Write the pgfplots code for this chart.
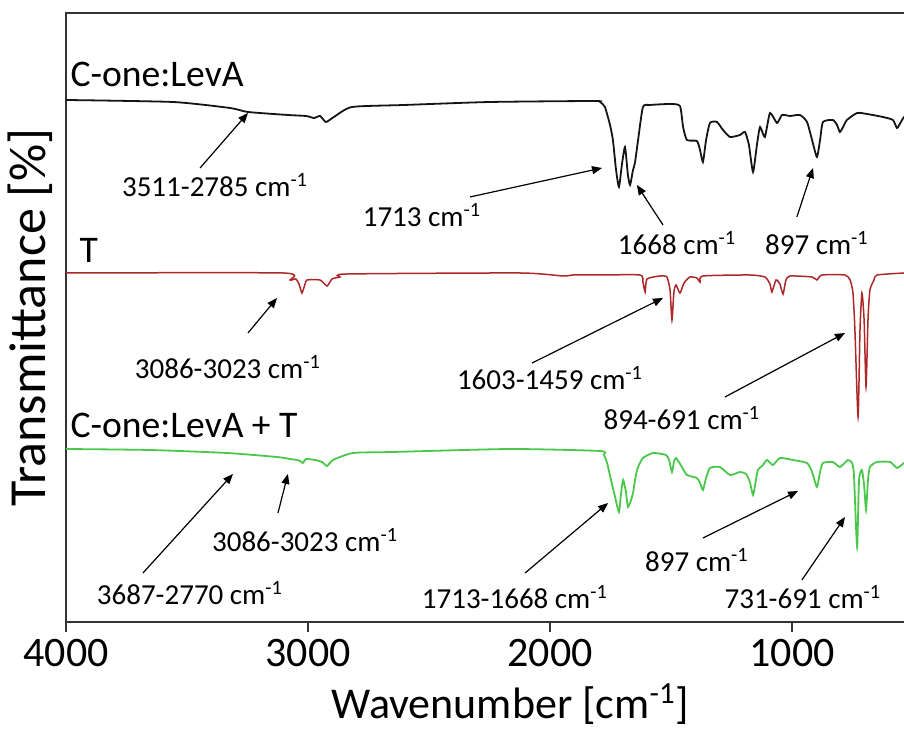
\documentclass[border=0pt]{standalone}
\usepackage{fontspec}
\setmainfont{Carlito}
\usepackage{pgfplots}
\usepackage{pgfplotstable}
\pgfplotsset{compat=1.18}
\usetikzlibrary{arrows.meta}

\definecolor{specblack}{RGB}{20,20,20}
\definecolor{specred}{RGB}{172,40,40}
\definecolor{specgreen}{RGB}{75,200,75}

\tikzset{
    ann/.style={font=\fontsize{14.5}{17}\selectfont, inner sep=0pt, anchor=center},
    big/.style={font=\fontsize{18.8}{22}\selectfont, inner sep=0pt, anchor=base west},
    arr/.style={-{Triangle[length=5pt,width=4pt]}, line width=0.6pt, black},
}

% wavenumber [cm-1], offset transmittance (arbitrary units)
\pgfplotstableread{
w y
4000 522
3558 520
3322 514
3248 510
3083 507
3008 506
2975 504
2950 506
2926 500
2893 505
2818 515
2603 517
2248 520
1818 521
1793 520
1773 515
1752 497
1740 482
1727 452
1715 435
1703 457
1690 475
1678 447
1669 437
1657 452
1649 459
1636 482
1616 515
1587 517
1504 518
1463 516
1450 495
1434 482
1393 481
1380 472
1368 460
1355 482
1339 499
1310 500
1285 492
1256 485
1215 487
1194 490
1178 477
1161 450
1145 477
1132 495
1112 485
1091 509
1062 499
1041 507
1008 506
967 507
938 500
917 482
897 465
884 482
872 500
831 502
814 497
802 490
789 495
773 502
731 509
690 508
624 505
583 502
566 494
550 500
537 505
520 505
}\levA

\pgfplotstableread{
w y
4000 349
3103 349
3074 342
3050 343
3037 338
3025 329
3012 338
3004 342
2950 342
2921 336
2901 343
2868 345
2839 348
2124 349
1946 346
1905 347
1793 347
1628 347
1616 340
1607 330
1599 343
1545 346
1517 345
1504 332
1496 302
1488 330
1479 337
1463 329
1446 339
1422 345
1393 344
1380 340
1368 346
1174 347
1112 345
1091 338
1083 330
1066 342
1050 338
1037 328
1025 342
1008 346
917 345
897 342
876 347
781 347
760 342
748 329
740 292
727 205
719 292
711 329
702 302
694 235
686 302
678 332
661 342
649 347
537 349
520 349
}\tol

\pgfplotstableread{
w y
4000 173
3653 172
3335 169
3128 165
3074 163
3045 162
3033 161
3021 159
3008 163
2971 162
2942 160
2921 156
2897 162
2814 169
2649 170
2165 173
1793 171
1777 167
1764 159
1748 142
1731 125
1715 110
1707 127
1698 142
1686 130
1678 115
1665 122
1657 129
1645 147
1636 155
1616 164
1574 169
1521 167
1508 162
1496 150
1488 160
1479 164
1455 155
1434 147
1393 144
1380 139
1368 132
1355 144
1339 154
1298 155
1256 147
1215 150
1190 148
1174 140
1161 127
1149 142
1141 152
1120 157
1103 162
1079 157
1050 164
996 162
938 159
917 150
897 135
884 150
872 159
831 160
802 155
769 162
752 159
744 147
731 75
723 142
711 152
702 137
694 112
686 142
678 155
649 160
595 160
566 154
537 159
520 160
}\mix

\begin{document}
\begin{tikzpicture}
% the axis runs on to 400 cm-1; the page ends near 537 cm-1, as in the cropped figure
\begin{axis}[
    name=ax,
    scale only axis,
    width=435.6pt,
    height=304.5pt,
    x dir=reverse,
    xmin=400, xmax=4000,
    ymin=0, ymax=609,
    axis line style={draw=black!80, line width=0.9pt},
    xtick={1000,2000,3000,4000},
    xtick pos=left,
    ytick=\empty,
    tick align=outside,
    major tick length=5pt,
    tick style={black!80, line width=0.9pt},
    /pgf/number format/assume math mode=true,
    /pgf/number format/1000 sep={},
    ticklabel style={font=\fontsize{21}{24}\selectfont},
    xlabel={Wavenumber [cm\textsuperscript{-1}]},
    ylabel={Transmittance [\%]},
    xlabel style={font=\fontsize{22}{26}\selectfont, at={(axis description cs:0.51,0)}, anchor=center, yshift=-41pt},
    ylabel style={font=\fontsize{26}{30}\selectfont, at={(axis description cs:-0.0413,0.5)}, anchor=center},
]
\addplot[specblack, line width=0.9pt, smooth, tension=0.35] table[x=w, y=y] {\levA};
\addplot[specred, line width=0.75pt, smooth, tension=0.35] table[x=w, y=y] {\tol};
\addplot[specgreen, line width=0.9pt, smooth, tension=0.35] table[x=w, y=y] {\mix};

% series names
\node[big] at (axis cs:3983,535) {C-one:LevA};
\node[big] at (axis cs:3945,359) {T};
\node[big] at (axis cs:3983,184) {C-one:LevA + T};

% band labels, C-one:LevA
\node[ann] at (axis cs:3384,437) {3511-2785 cm\textsuperscript{-1}};
\node[ann] at (axis cs:2529,407) {1713 cm\textsuperscript{-1}};
\node[ann] at (axis cs:1475,379) {1668 cm\textsuperscript{-1}};
\node[ann] at (axis cs:897,379) {897 cm\textsuperscript{-1}};
\draw[arr] (axis cs:3446,454) -- (axis cs:3248,509);
\draw[arr] (axis cs:2331,425) -- (axis cs:1785,454);
\draw[arr] (axis cs:1533,397) -- (axis cs:1641,437);
\draw[arr] (axis cs:980,405) -- (axis cs:913,454);

% band labels, T
\node[ann] at (axis cs:3331,255) {3086-3023 cm\textsuperscript{-1}};
\node[ann] at (axis cs:2000,244) {1603-1459 cm\textsuperscript{-1}};
\node[ann] at (axis cs:1455,204) {894-691 cm\textsuperscript{-1}};
\draw[arr] (axis cs:3248,289) -- (axis cs:3128,324);
\draw[arr] (axis cs:2074,259) -- (axis cs:1533,324);
\draw[arr] (axis cs:1277,225) -- (axis cs:781,289);

% band labels, C-one:LevA + T
\node[ann] at (axis cs:3488,29) {3687-2770 cm\textsuperscript{-1}};
\node[ann] at (axis cs:3012,82) {3086-3023 cm\textsuperscript{-1}};
\node[ann] at (axis cs:2145,25) {1713-1668 cm\textsuperscript{-1}};
\node[ann] at (axis cs:1393,62) {897 cm\textsuperscript{-1}};
\node[ann] at (axis cs:955,25) {731-691 cm\textsuperscript{-1}};
\draw[arr] (axis cs:3682,49) -- (axis cs:3310,148);
\draw[arr] (axis cs:3124,109) -- (axis cs:3083,148);
\draw[arr] (axis cs:2103,49) -- (axis cs:1760,119);
\draw[arr] (axis cs:1368,84) -- (axis cs:975,131);
\draw[arr] (axis cs:959,42) -- (axis cs:781,105);
\end{axis}
\pgfresetboundingbox
\useasboundingbox ([xshift=-33pt,yshift=-54.5pt]ax.south west) rectangle ([xshift=419pt,yshift=6.5pt]ax.north west);
\end{tikzpicture}
\end{document}
